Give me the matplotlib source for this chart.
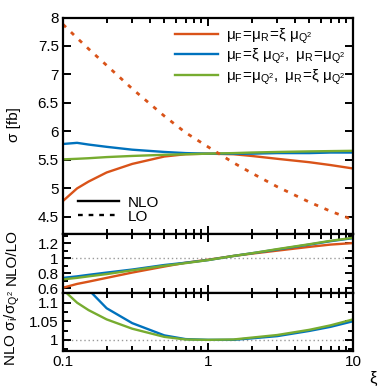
import numpy as np
import matplotlib
matplotlib.use("Agg")
import matplotlib.pyplot as plt
from matplotlib.lines import Line2D
from matplotlib.ticker import FixedLocator, NullFormatter, MultipleLocator

plt.rcParams['font.family'] = ['Liberation Sans', 'DejaVu Sans']
plt.rcParams['mathtext.fontset'] = 'custom'
plt.rcParams['mathtext.rm'] = 'Liberation Sans'
plt.rcParams['mathtext.it'] = 'Liberation Sans:italic'
plt.rcParams['font.size'] = 11

# scale factor xi
xi = [0.1, 0.125, 0.15, 0.2, 0.3, 0.5, 0.7, 1, 1.5, 2, 3, 5, 7, 10]

# NLO cross sections [fb]
nlo_both = [4.78, 5.0, 5.12, 5.28, 5.43, 5.56, 5.60, 5.61, 5.60, 5.57, 5.52, 5.46, 5.41, 5.35]
nlo_muf = [5.78, 5.80, 5.77, 5.73, 5.68, 5.64, 5.62, 5.61, 5.61, 5.61, 5.62, 5.62, 5.63, 5.63]
nlo_mur = [5.51, 5.52, 5.53, 5.55, 5.57, 5.59, 5.60, 5.61, 5.62, 5.63, 5.64, 5.65, 5.655, 5.66]
# LO cross section [fb]
lo_both = [7.88, 7.64, 7.45, 7.16, 6.75, 6.27, 5.98, 5.73, 5.45, 5.27, 5.03, 4.76, 4.60, 4.45]

# K-factors NLO/LO
k_both = [0.61, 0.66, 0.69, 0.74, 0.81, 0.89, 0.94, 0.98, 1.03, 1.06, 1.10, 1.15, 1.18, 1.20]
k_muf = [0.74, 0.76, 0.78, 0.81, 0.85, 0.91, 0.94, 0.975, 1.03, 1.065, 1.115, 1.18, 1.225, 1.265]
k_mur = [0.72, 0.74, 0.76, 0.79, 0.84, 0.90, 0.935, 0.975, 1.03, 1.065, 1.12, 1.185, 1.23, 1.27]

# NLO sigma_i / sigma_Q2
r_muf = [1.22, 1.17, 1.135, 1.085, 1.045, 1.012, 1.002, 1.0, 1.0, 1.004, 1.01, 1.024, 1.035, 1.05]
r_mur = [1.135, 1.10, 1.08, 1.055, 1.03, 1.008, 1.001, 1.0, 1.001, 1.006, 1.013, 1.027, 1.039, 1.055]

labels = [r'$\mathregular{μ_F\!=\!μ_R\!=\!ξ\ μ_{Q^2}}$',
          r'$\mathregular{μ_F\!=\!ξ\ μ_{Q^2},\ μ_R\!=\!μ_{Q^2}}$',
          r'$\mathregular{μ_F\!=\!μ_{Q^2},\ μ_R\!=\!ξ\ μ_{Q^2}}$']
orange, blue, green = '#d95319', '#0072bd', '#77ac30'


def fmt(v, p):
    return '%g' % v


W = 390.
fig = plt.figure(figsize=(3.9, 3.9), dpi=100)
left, width = 63 / W, 290 / W
ax1 = fig.add_axes([left, 1 - 234 / W, width, 216.5 / W])
ax2 = fig.add_axes([left, 1 - 293 / W, width, 59 / W])
ax3 = fig.add_axes([left, 1 - 351 / W, width, 58 / W])

lw = 1.7
# main panel: cross sections
ax1.plot(xi, nlo_both, color=orange, lw=lw, label=labels[0])
ax1.plot(xi, nlo_muf, color=blue, lw=lw, label=labels[1])
ax1.plot(xi, nlo_mur, color=green, lw=lw, label=labels[2])
ax1.plot(xi, lo_both, color=orange, lw=2, ls=(0, (1.5, 2.5)))
ax1.set_ylim(4.2, 8)
ax1.yaxis.set_major_locator(MultipleLocator(0.5))
ax1.yaxis.set_major_formatter(plt.FuncFormatter(fmt))

leg1 = ax1.legend(loc='upper right', frameon=False, fontsize=11, handlelength=2.8,
                  handletextpad=0.5, labelspacing=0.08, borderaxespad=0.1,
                  bbox_to_anchor=(1.0, 0.995))
ax1.add_artist(leg1)
proxies = [Line2D([], [], color='black', lw=lw),
           Line2D([], [], color='black', lw=lw, ls=(0, (2, 2.5)))]
ax1.legend(proxies, ['NLO', 'LO'], loc='lower left', frameon=False, fontsize=11,
           handlelength=2.7, handletextpad=0.6, labelspacing=0.0,
           bbox_to_anchor=(0.03, 0.02), borderaxespad=0.0)

# middle panel: NLO/LO
ax2.plot(xi, k_both, color=orange, lw=lw)
ax2.plot(xi, k_muf, color=blue, lw=lw)
ax2.plot(xi, k_mur, color=green, lw=lw)
ax2.axhline(1, color='#999999', lw=1, ls=(0, (1, 2)), zorder=0)
ax2.set_ylim(0.54, 1.32)
ax2.yaxis.set_major_locator(FixedLocator([0.6, 0.8, 1.0, 1.2]))
ax2.yaxis.set_minor_locator(MultipleLocator(0.1))
ax2.yaxis.set_major_formatter(plt.FuncFormatter(fmt))

# bottom panel: sigma_i / sigma_Q2
ax3.plot(xi, r_muf, color=blue, lw=lw)
ax3.plot(xi, r_mur, color=green, lw=lw)
ax3.axhline(1, color='#999999', lw=1, ls=(0, (1, 2)), zorder=0)
ax3.set_ylim(0.97, 1.126)
ax3.yaxis.set_major_locator(FixedLocator([1.0, 1.05, 1.1]))
ax3.yaxis.set_minor_locator(MultipleLocator(0.025))
ax3.yaxis.set_major_formatter(plt.FuncFormatter(fmt))

for ax in (ax1, ax2, ax3):
    ax.set_xscale('log')
    ax.set_xlim(0.1, 10)
    ax.xaxis.set_major_locator(FixedLocator([0.1, 1, 10]))
    ax.xaxis.set_minor_locator(FixedLocator(
        [m * d for d in (0.1, 1) for m in range(2, 10)]))
    ax.xaxis.set_minor_formatter(NullFormatter())
    ax.tick_params(which='both', direction='in', top=True, right=True,
                   width=1.4, labelsize=11, pad=3)
    ax.tick_params(which='major', length=6)
    ax.tick_params(which='minor', length=3.5)
    for s in ax.spines.values():
        s.set_linewidth(1.6)
ax1.set_xticklabels([])
ax2.set_xticklabels([])
ax3.xaxis.set_major_formatter(plt.FuncFormatter(fmt))

fig.text(14 / W, 1 - 125 / W, 'σ [fb]', rotation=90, ha='center', va='center', fontsize=11)
fig.text(12 / W, 1 - 257 / W, 'NLO/LO', rotation=90, ha='center', va='center', fontsize=11)
fig.text(12 / W, 1 - 328 / W, r'NLO $\mathregular{σ_i/σ_{Q^2}}$', rotation=90,
         ha='center', va='center', fontsize=11)
fig.text(373 / W, 1 - 378 / W, 'ξ', ha='center', va='center', fontsize=12)

fig.savefig('out.png', dpi=100)
